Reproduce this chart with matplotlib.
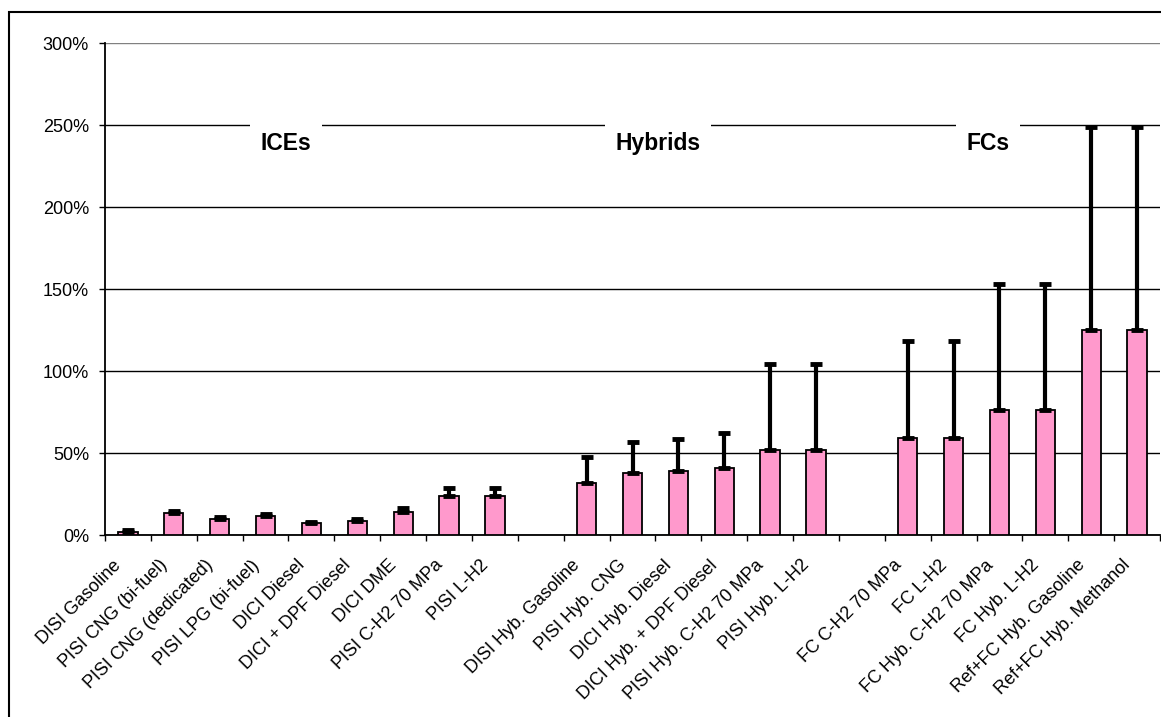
import numpy as np
import matplotlib
matplotlib.use('Agg')
import matplotlib.pyplot as plt
import matplotlib.transforms as mtransforms
from matplotlib.patches import Rectangle

plt.rcParams['font.family'] = ['Liberation Sans', 'DejaVu Sans']

# categories (blank entries are the gaps between groups)
labels = ['DISI Gasoline', 'PISI CNG (bi-fuel)', 'PISI CNG (dedicated)', 'PISI LPG (bi-fuel)',
          'DICI Diesel', 'DICI + DPF Diesel', 'DICI DME', 'PISI C-H2 70 MPa', 'PISI L-H2',
          '',
          'DISI Hyb. Gasoline', 'PISI Hyb. CNG', 'DICI Hyb. Diesel', 'DICI Hyb. + DPF Diesel',
          'PISI Hyb. C-H2 70 MPa', 'PISI Hyb. L-H2',
          '',
          'FC C-H2 70 MPa', 'FC L-H2', 'FC Hyb. C-H2 70 MPa', 'FC Hyb. L-H2',
          'Ref+FC Hyb. Gasoline', 'Ref+FC Hyb. Methanol']
values = [2, 13.3, 9.8, 11.4, 7.1, 8.8, 14.2, 24, 24,
          np.nan,
          32, 38, 39, 41, 52, 52,
          np.nan,
          59, 59, 76, 76, 125, 125]
err_up = [1, 1.2, 1.2, 1.2, 1, 1.2, 2.2, 4.5, 4.5,
          np.nan,
          15.5, 18.5, 19.5, 21, 52, 52,
          np.nan,
          59.5, 59.5, 77, 77, 124, 124]

groups = ['ICEs', 'Hybrids', 'FCs']
group_x = [3.45, 11.55, 18.75]
yticks = [0, 50, 100, 150, 200, 250, 300]

fig = plt.figure(figsize=(11.61, 7.17), dpi=100)
ax = fig.add_axes([105 / 1161, 1 - 535 / 717, 1055 / 1161, (535 - 43) / 717])

x = np.arange(len(labels))
vals = np.array(values, dtype=float)
up = np.array(err_up, dtype=float)
ax.bar(x, vals, width=0.42, color='#FF99CC', edgecolor='black', linewidth=1.3, zorder=3)
ax.errorbar(x, vals, yerr=[np.zeros_like(up), up], fmt='none', ecolor='black',
            elinewidth=3, capsize=4, capthick=3.5, zorder=4)

ax.set_xlim(-0.5, len(labels) - 0.5)
ax.set_ylim(0, 300)
ax.set_yticks(yticks)
ax.set_yticklabels(['%d%%' % t for t in yticks], fontsize=13)
ax.yaxis.grid(True, color='black', linewidth=1)
ax.get_ygridlines()[-1].set_color('#808080')
ax.set_axisbelow(True)

ax.set_xticks(x)
ax.set_xticklabels(labels, rotation=45, ha='right', va='center', rotation_mode='anchor',
                   fontsize=13)
ax.set_xticks(np.arange(-0.5, len(labels)), minor=True)
ax.tick_params(axis='x', which='major', length=0, pad=20)
ax.tick_params(axis='x', which='minor', length=4.5, width=1, direction='out')
ax.tick_params(axis='y', length=4.5, width=1, direction='out', pad=7)
shift = mtransforms.ScaledTranslation(-9 / 100, 0, fig.dpi_scale_trans)
for lab in ax.get_xticklabels():
    lab.set_transform(lab.get_transform() + shift)

for s in ['top', 'right']:
    ax.spines[s].set_visible(False)
ax.spines['left'].set_linewidth(1.3)
ax.spines['bottom'].set_linewidth(1.3)

for name, gx in zip(groups, group_x):
    ax.text(gx, 239, name, ha='center', va='center', fontsize=16.5, fontweight='bold',
            zorder=5, bbox=dict(boxstyle='square,pad=0.45', facecolor='white', edgecolor='none'))

fig.patches.append(Rectangle((9 / 1161, -0.1), 1.2, 1.1 - 12 / 717, transform=fig.transFigure,
                             fill=False, edgecolor='black', linewidth=1.5))

fig.savefig('out.png', dpi=100)
